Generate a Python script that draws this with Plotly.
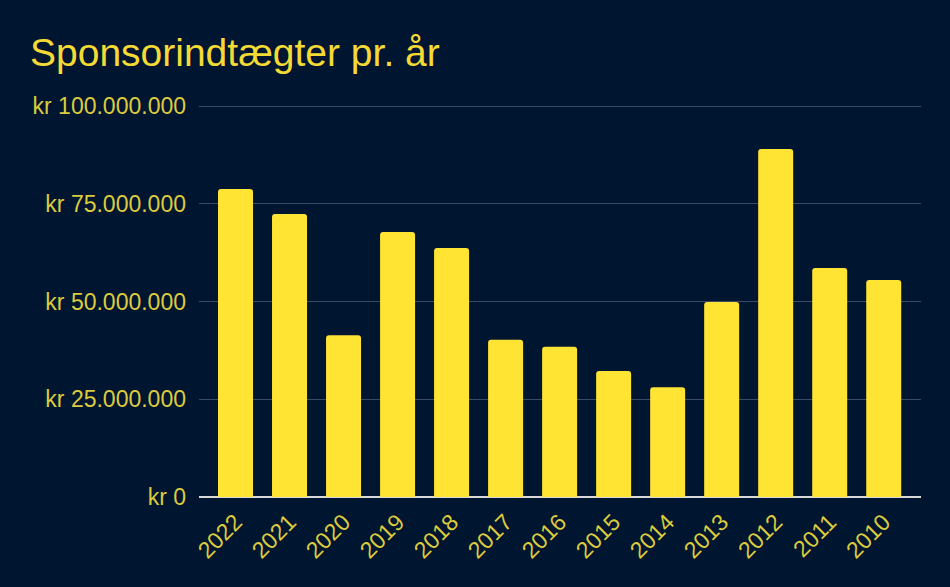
import plotly.graph_objects as go

years = ["2022", "2021", "2020", "2019", "2018", "2017", "2016", "2015", "2014", "2013", "2012", "2011", "2010"]
income = [78.8e6, 72.4e6, 41.4e6, 67.8e6, 63.7e6, 40.2e6, 38.4e6, 32.2e6, 28.1e6, 49.9e6, 89.0e6, 58.6e6, 55.5e6]
y_tickvals = [0, 25e6, 50e6, 75e6, 100e6]
y_ticktext = ["kr 0", "kr 25.000.000", "kr 50.000.000", "kr 75.000.000", "kr 100.000.000"]

BG = "#001530"
BAR = "#ffe433"
TXT = "#dccb3c"

fig = go.Figure(go.Bar(x=years, y=income, marker=dict(color=BAR, cornerradius=3, line=dict(width=0))))

fig.update_layout(
    width=950, height=587,
    paper_bgcolor=BG, plot_bgcolor=BG,
    margin=dict(l=199, r=29, t=105, b=90),
    bargap=0.352,
    showlegend=False,
    title=dict(text="Sponsorindtægter pr. år", x=30/950, xanchor="left", y=1-52/587, yanchor="middle",
               font=dict(family="Liberation Sans, Arial", size=39, color="#f5da35")),
    font=dict(family="Liberation Sans, Arial", color=TXT),
)
fig.update_xaxes(type="category", range=[-0.676, 12.69], tickangle=-45, tickfont=dict(size=23, color=TXT),
                 showgrid=False, showline=False, ticks="", ticklen=0, ticklabelstandoff=6)
fig.update_yaxes(range=[0, 100.26e6], tickvals=y_tickvals, ticktext=y_ticktext, tickfont=dict(size=23, color=TXT),
                 showgrid=True, gridcolor="#3b4a63", gridwidth=1, zeroline=True, zerolinecolor="#d8d8d8",
                 zerolinewidth=1.5, ticks="", ticklabelstandoff=12)
fig.write_html("out.html")
